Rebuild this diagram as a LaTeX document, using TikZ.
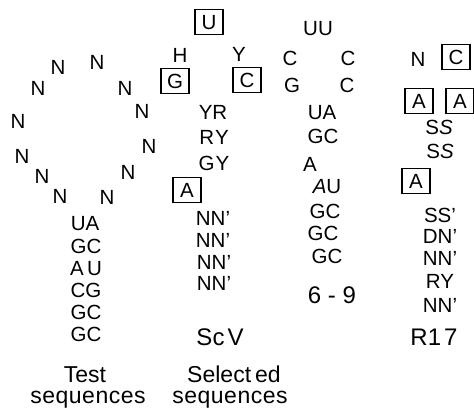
\documentclass[tikz,border=0pt]{standalone}
\usepackage{fontspec}
\setmainfont{Liberation Sans}
\tikzset{
  seq/.style={font=\fontsize{20.5}{20.5}\selectfont, inner sep=0pt, text height=14.6pt, text depth=0pt},
  lbl/.style={font=\fontsize{23}{23}\selectfont, inner sep=0pt, text height=16.5pt, text depth=0pt},
  num/.style={font=\fontsize{24}{24}\selectfont, inner sep=0pt, text height=17.2pt, text depth=0pt},
  boxed/.style={seq, draw, line width=1.1pt, minimum width=28pt, minimum height=25pt},
}
\begin{document}
\begin{tikzpicture}[x=1pt, y=-1pt]
\useasboundingbox (0,0) rectangle (474,415);

% ---- test sequences: loop of N and stem ----
\foreach \n/\x/\y in {1/18/121, 2/22/156, 3/42/176, 4/60/196, 5/107/197,
    6/128/172, 7/149/146, 8/142/111, 9/125/88, 10/97/62, 11/58/67, 12/38/88}
  \node[seq] (loop\n) at (\x,\y) {N};
\node[seq] (ts1) at (85,223) {UA};
\node[seq] (ts2) at (86,246) {GC};
\node[seq] (ts3) at (86,268) {A\,U};
\node[seq] (ts4) at (86,290) {CG};
\node[seq] (ts5) at (86,312) {GC};
\node[seq] (ts6) at (86,334) {GC};
\node[lbl] (testlbl) at (85,374) {Test};
\node[lbl, anchor=base] (testseq) at (88,403) {s\kern.5pt e\kern.5pt q\kern.5pt u\kern.5pt e\kern.5pt n\kern.5pt c\kern.5pt e\kern.5pt s};

% ---- ScV ----
\node[boxed] (sU) at (209,22) {U};
\node[seq] (sH) at (180,55) {H};
\node[seq] (sY) at (239,54) {Y};
\node[boxed] (sG) at (175,81) {G};
\node[boxed] (sC) at (247,80) {C};
\node[seq] (s1) at (213,112) {YR};
\node[seq] (s2) at (214,137) {R\kern1pt Y};
\node[seq] (s3) at (214,163) {G\kern1pt Y};
\node[boxed] (sA) at (187,190) {A};
\node[seq] (s4) at (213,218) {NN'};
\node[seq] (s5) at (213,240) {NN'};
\node[seq] (s6) at (214,262) {NN'};
\node[seq] (s7) at (214,283) {NN'};
\node[num] (scv) at (220,337) {Sc\kern3pt V};
\node[lbl] (sellbl) at (234,374) {Select\kern4pt ed};
\node[lbl, anchor=base] (selseq) at (230,403) {s\kern.5pt e\kern.5pt q\kern.5pt u\kern.5pt e\kern.5pt n\kern.5pt c\kern.5pt e\kern.5pt s};

% ---- 6-9 ----
\node[seq] (nUU) at (318,28) {UU};
\node[seq] (nC1) at (290,58) {C};
\node[seq] (nC2) at (348,58) {C};
\node[seq] (nG) at (292,85) {G};
\node[seq] (nC3) at (347,85) {C};
\node[seq] (n1) at (322,112) {UA};
\node[seq] (n2) at (323,136) {GC};
\node[seq] (nA) at (310,164) {A};
\node[seq] (n3) at (327,186) {\textit{A}U};
\node[seq] (n4) at (325,211) {GC};
\node[seq] (n5) at (323,233) {GC};
\node[seq] (n6) at (327,256) {GC};
\node[num] (sixnine) at (332,295) {6 - 9};

% ---- R17 ----
\node[seq] (rN) at (418,59) {N};
\node[boxed] (rC) at (456,57) {C};
\node[boxed] (rA1) at (419,101) {A};
\node[boxed] (rA2) at (460,101) {A};
\node[seq] (r1) at (439,127) {S\textit{S}};
\node[seq] (r2) at (440,151) {S\textit{S}};
\node[boxed] (rA3) at (416,181) {A};
\node[seq] (r3) at (440,215) {SS'};
\node[seq] (r4) at (440,236) {DN'};
\node[seq] (r5) at (440,258) {NN'};
\node[seq] (r6) at (440,281) {RY};
\node[seq] (r7) at (440,305) {NN'};
\node[num] (r17) at (434,337) {R1\kern3pt 7};
\end{tikzpicture}
\end{document}
